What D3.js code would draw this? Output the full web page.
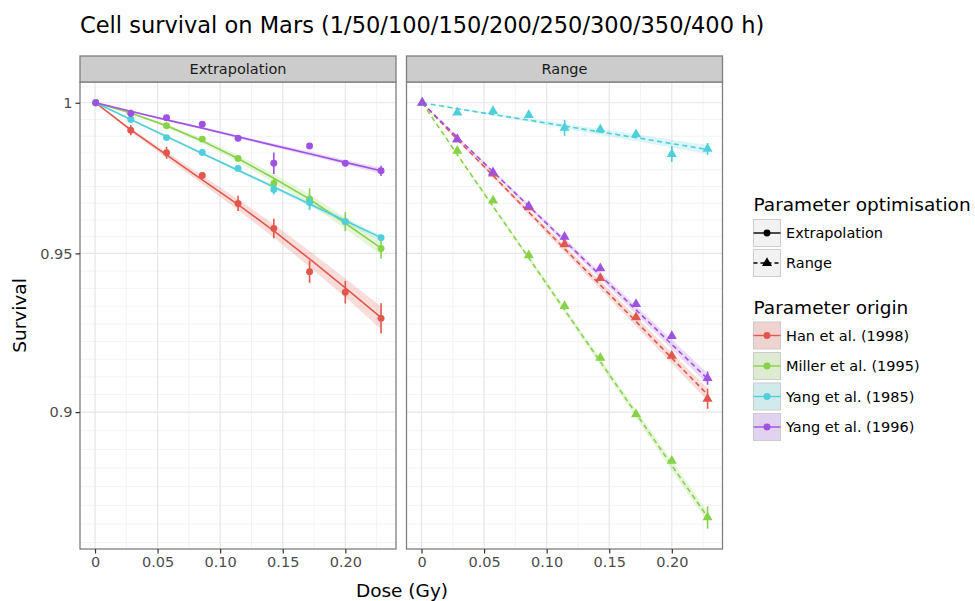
<!DOCTYPE html>
<html>
<head>
<meta charset="utf-8">
<script src="https://cdn.jsdelivr.net/npm/d3@7"></script>
<style>
    body { margin: 0; background: #fff; }
    svg { font-family: 'DejaVu Sans', sans-serif; }
</style>
</head>
<body>
<svg id="chart"></svg>
<script>
// 剂量 (Gy)，对应 1/50/100/.../400 h
var doses = [0.000571, 0.02857, 0.05714, 0.08571, 0.11429, 0.14286, 0.17143, 0.2, 0.22857];
var origins = ['Han et al. (1998)', 'Miller et al. (1995)', 'Yang et al. (1985)', 'Yang et al. (1996)'];
var optimisations = ['Extrapolation', 'Range'];
var xBreaks = [0, 0.05, 0.1, 0.15, 0.2];
var xBreakLabels = ['0', '0.05', '0.10', '0.15', '0.20'];
var yBreaks = [1, 0.95, 0.9];
var yBreakLabels = ['1', '0.95', '0.9'];

// Extrapolation：观测均值、误差、拟合、置信带 (顺序同 origins)
var extrapMean = [
    [1, 0.9907, 0.9831, 0.9755, 0.9663, 0.9581, 0.9441, 0.9375, 0.9292],
    [1, 0.9964, 0.9922, 0.9877, 0.9812, 0.9729, 0.9677, 0.9603, 0.9516],
    [1, 0.9943, 0.9882, 0.9832, 0.9779, 0.9709, 0.9666, 0.9603, 0.9551],
    [1, 0.9964, 0.9949, 0.9927, 0.9880, 0.9796, 0.9854, 0.9796, 0.9771]
];
var extrapErr = [
    [0, 0.0017, 0.0020, 0.0007, 0.0025, 0.0032, 0.0036, 0.0036, 0.0048],
    [0, 0.0005, 0.0005, 0.0005, 0.0005, 0.0017, 0.0036, 0.0031, 0.0033],
    [0, 0.0005, 0.0005, 0.0005, 0.0005, 0.0017, 0.0023, 0.0005, 0.0005],
    [0, 0.0013, 0.0005, 0.0005, 0.0010, 0.0036, 0.0005, 0.0010, 0.0017]
];
var extrapFit = [
    [1, 0.9908, 0.9824, 0.9741, 0.9659, 0.9573, 0.9482, 0.9389, 0.9294],
    [1, 0.9965, 0.9922, 0.9871, 0.9812, 0.9746, 0.9677, 0.9598, 0.9517],
    [1, 0.9943, 0.9886, 0.9829, 0.9773, 0.9717, 0.9661, 0.9606, 0.9551],
    [1, 0.9971, 0.9942, 0.9914, 0.9885, 0.9856, 0.9828, 0.9799, 0.9771]
];
var extrapBand = [
    [0, 0.0006, 0.0010, 0.0014, 0.0018, 0.0022, 0.0026, 0.0030, 0.0036],
    [0, 0.0003, 0.0006, 0.0009, 0.0012, 0.0014, 0.0016, 0.0019, 0.0022],
    [0, 0.0002, 0.0003, 0.0004, 0.0005, 0.0006, 0.0007, 0.0008, 0.0009],
    [0, 0.0002, 0.0003, 0.0004, 0.0005, 0.0006, 0.0007, 0.0008, 0.0010]
];

// Range
var rangeMean = [
    [1, 0.9876, 0.9762, 0.9650, 0.9529, 0.9420, 0.9295, 0.9174, 0.9041],
    [1, 0.9838, 0.9672, 0.9494, 0.9331, 0.9168, 0.8993, 0.8852, 0.8683],
    [1, 0.9967, 0.9972, 0.9958, 0.9915, 0.9910, 0.9893, 0.9827, 0.9844],
    [1, 0.9876, 0.9766, 0.9654, 0.9554, 0.9452, 0.9337, 0.9236, 0.9105]
];
var rangeErr = [
    [0, 0.0005, 0.0005, 0.0005, 0.0005, 0.0005, 0.0005, 0.0005, 0.0031],
    [0, 0.0005, 0.0005, 0.0005, 0.0005, 0.0010, 0.0005, 0.0005, 0.0033],
    [0, 0.0005, 0.0005, 0.0005, 0.0027, 0.0005, 0.0005, 0.0027, 0.0020],
    [0, 0.0005, 0.0005, 0.0005, 0.0005, 0.0005, 0.0005, 0.0005, 0.0021]
];
var rangeFit = [
    [1, 0.9876, 0.9755, 0.9634, 0.9515, 0.9398, 0.9282, 0.9167, 0.9054],
    [1, 0.9825, 0.9653, 0.9485, 0.9319, 0.9156, 0.8996, 0.8838, 0.8684],
    [1, 0.9980, 0.9960, 0.9941, 0.9921, 0.9901, 0.9882, 0.9862, 0.9842],
    [1, 0.9883, 0.9768, 0.9654, 0.9541, 0.9429, 0.9319, 0.9210, 0.9103]
];
var rangeBand = [
    [0, 0.0003, 0.0006, 0.0009, 0.0011, 0.0013, 0.0015, 0.0017, 0.0019],
    [0, 0.0003, 0.0005, 0.0007, 0.0009, 0.0011, 0.0013, 0.0015, 0.0017],
    [0, 0.0002, 0.0004, 0.0006, 0.0008, 0.0010, 0.0011, 0.0013, 0.0015],
    [0, 0.0003, 0.0005, 0.0007, 0.0009, 0.0011, 0.0013, 0.0015, 0.0017]
];

var colors = ['#E2574C', '#88D24A', '#4ECFD9', '#9F52E2'];

var svgWidth = 975, svgHeight = 601;
var panelTop = 82, panelBottom = 549, stripTop = 56;
var svg = d3.select('#chart')
    .attr('width', svgWidth)
    .attr('height', svgHeight);

// y比例尺 (对数)
var y = d3.scaleLog()
    .domain([0.859, 1.0071])
    .range([panelBottom, panelTop]);

var panels = [
    {mean: extrapMean, err: extrapErr, fit: extrapFit, band: extrapBand, x0: 80, x1: 396, triangle: false},
    {mean: rangeMean, err: rangeErr, fit: rangeFit, band: rangeBand, x0: 406.5, x1: 722.5, triangle: true}
];

// 次网格线：在变换后的空间里每个主刻度区间等分9份
var majorY = [yBreaks[0] + 0.05].concat(yBreaks).concat([yBreaks[yBreaks.length - 1] - 0.05]).map(function(v) { return y(v); });
var minorY = [];
for (var k = 0; k < majorY.length - 1; k++) {
    for (var s = 1; s < 9; s++) {
        var yy = majorY[k] + (majorY[k + 1] - majorY[k]) * s / 9;
        if (yy > panelTop && yy < panelBottom) minorY.push(yy);
    }
}

function drawPanel(p, pi) {
    var x = d3.scaleLinear()
        .domain([-0.012, 0.2405])
        .range([p.x0, p.x1]);
    var g = svg.append('g');
    var minorX = xBreaks.slice(0, -1).map(function(v, i) { return (v + xBreaks[i + 1]) / 2; }).concat([0.225]);

    // 网格
    g.selectAll('.minor-x').data(minorX).enter().append('line')
        .attr('x1', function(d) { return x(d); }).attr('x2', function(d) { return x(d); })
        .attr('y1', panelTop).attr('y2', panelBottom)
        .attr('stroke', '#ebebeb').attr('stroke-width', 0.6);
    g.selectAll('.minor-y').data(minorY).enter().append('line')
        .attr('x1', p.x0).attr('x2', p.x1)
        .attr('y1', function(d) { return d; }).attr('y2', function(d) { return d; })
        .attr('stroke', '#ebebeb').attr('stroke-width', 0.6);
    g.selectAll('.major-x').data(xBreaks).enter().append('line')
        .attr('x1', function(d) { return x(d); }).attr('x2', function(d) { return x(d); })
        .attr('y1', panelTop).attr('y2', panelBottom)
        .attr('stroke', '#e6e6e6').attr('stroke-width', 1.2);
    g.selectAll('.major-y').data(yBreaks).enter().append('line')
        .attr('x1', p.x0).attr('x2', p.x1)
        .attr('y1', function(d) { return y(d); }).attr('y2', function(d) { return y(d); })
        .attr('stroke', '#e6e6e6').attr('stroke-width', 1.2);

    // 置信带
    var area = d3.area()
        .x(function(d, i) { return x(doses[i]); })
        .y0(function(d) { return y(d[0] - d[1]); })
        .y1(function(d) { return y(d[0] + d[1]); });
    var line = d3.line()
        .x(function(d, i) { return x(doses[i]); })
        .y(function(d) { return y(d); });
    origins.forEach(function(o, j) {
        var bandData = p.fit[j].map(function(v, i) { return [v, p.band[j][i]]; });
        g.append('path')
            .attr('d', area(bandData))
            .attr('fill', colors[j])
            .attr('fill-opacity', 0.2);
    });
    // 拟合线
    origins.forEach(function(o, j) {
        g.append('path')
            .attr('d', line(p.fit[j]))
            .attr('fill', 'none')
            .attr('stroke', colors[j])
            .attr('stroke-width', 1.6)
            .attr('stroke-dasharray', p.triangle ? '5,3.5' : null);
    });
    // 误差线和点
    origins.forEach(function(o, j) {
        g.selectAll('.err' + j).data(p.mean[j]).enter().append('line')
            .attr('x1', function(d, i) { return x(doses[i]); })
            .attr('x2', function(d, i) { return x(doses[i]); })
            .attr('y1', function(d, i) { return y(d - p.err[j][i]); })
            .attr('y2', function(d, i) { return y(d + p.err[j][i]); })
            .attr('stroke', colors[j])
            .attr('stroke-width', 1.6);
        var sym = d3.symbol().type(p.triangle ? d3.symbolTriangle : d3.symbolCircle).size(p.triangle ? 44 : 38);
        g.selectAll('.pt' + j).data(p.mean[j]).enter().append('path')
            .attr('d', sym)
            .attr('transform', function(d, i) { return 'translate(' + x(doses[i]) + ',' + y(d) + ')'; })
            .attr('fill', colors[j]);
    });

    // 边框
    g.append('rect')
        .attr('x', p.x0).attr('y', panelTop)
        .attr('width', p.x1 - p.x0).attr('height', panelBottom - panelTop)
        .attr('fill', 'none').attr('stroke', '#7f7f7f').attr('stroke-width', 1.3);
    // 分面标题
    g.append('rect')
        .attr('x', p.x0).attr('y', stripTop)
        .attr('width', p.x1 - p.x0).attr('height', panelTop - stripTop)
        .attr('fill', '#cccccc').attr('stroke', '#7f7f7f').attr('stroke-width', 1.3);
    g.append('text')
        .attr('x', (p.x0 + p.x1) / 2).attr('y', (stripTop + panelTop) / 2 + 5)
        .attr('text-anchor', 'middle')
        .attr('font-size', 14.5)
        .attr('fill', '#1a1a1a')
        .text(optimisations[pi]);

    // x轴
    var xAxis = d3.axisBottom(x)
        .tickValues(xBreaks)
        .tickFormat(function(d, i) { return xBreakLabels[i]; })
        .tickSize(4.5)
        .tickPadding(3);
    var ax = g.append('g')
        .attr('transform', 'translate(0,' + panelBottom + ')')
        .call(xAxis);
    ax.select('.domain').remove();
    ax.selectAll('line').attr('stroke', '#333').attr('stroke-width', 1.2);
    ax.selectAll('text').attr('font-size', 14.5).attr('fill', '#4d4d4d').attr('font-family', 'DejaVu Sans');

    // y轴
    if (pi === 0) {
        var yAxis = d3.axisLeft(y)
            .tickValues(yBreaks)
            .tickFormat(function(d, i) { return yBreakLabels[i]; })
            .tickSize(4.5)
            .tickPadding(3);
        var ay = g.append('g')
            .attr('transform', 'translate(' + p.x0 + ',0)')
            .call(yAxis);
        ay.select('.domain').remove();
        ay.selectAll('line').attr('stroke', '#333').attr('stroke-width', 1.2);
        ay.selectAll('text').attr('font-size', 14.5).attr('fill', '#4d4d4d').attr('font-family', 'DejaVu Sans');
    }
}
panels.forEach(drawPanel);

// 标题
svg.append('text')
    .attr('x', 80).attr('y', 33)
    .attr('font-size', 22.5)
    .attr('fill', '#000')
    .text('Cell survival on Mars (1/50/100/150/200/250/300/350/400 h)');
svg.append('text')
    .attr('x', 402).attr('y', 597)
    .attr('text-anchor', 'middle')
    .attr('font-size', 18.5)
    .text('Dose (Gy)');
svg.append('text')
    .attr('transform', 'translate(26,' + (panelTop + panelBottom) / 2 + ') rotate(-90)')
    .attr('text-anchor', 'middle')
    .attr('font-size', 18.5)
    .text('Survival');

// 图例
var legendX = 753.5, keySize = 27;
function drawKey(ky, stroke, fill, dash, triangle) {
    svg.append('rect')
        .attr('x', legendX).attr('y', ky)
        .attr('width', keySize).attr('height', keySize)
        .attr('fill', fill)
        .attr('stroke', '#cccccc').attr('stroke-width', 1);
    svg.append('line')
        .attr('x1', legendX).attr('x2', legendX + keySize)
        .attr('y1', ky + keySize / 2).attr('y2', ky + keySize / 2)
        .attr('stroke', stroke).attr('stroke-width', 1.4)
        .attr('stroke-dasharray', dash ? '4,3' : null);
    svg.append('path')
        .attr('d', d3.symbol().type(triangle ? d3.symbolTriangle : d3.symbolCircle).size(triangle ? 44 : 38))
        .attr('transform', 'translate(' + (legendX + keySize / 2) + ',' + (ky + keySize / 2) + ')')
        .attr('fill', stroke);
}
svg.append('text')
    .attr('x', legendX).attr('y', 211)
    .attr('font-size', 18.5)
    .text('Parameter optimisation');
var optKeyY = [219.5, 249.5];
optimisations.forEach(function(o, i) {
    drawKey(optKeyY[i], '#000', '#f2f2f2', i === 1, i === 1);
    svg.append('text')
        .attr('x', 786).attr('y', optKeyY[i] + keySize / 2 + 5)
        .attr('font-size', 14.5)
        .text(o);
});
svg.append('text')
    .attr('x', legendX).attr('y', 313.5)
    .attr('font-size', 18.5)
    .text('Parameter origin');
origins.forEach(function(o, i) {
    var ky = 322 + i * 30.5;
    drawKey(ky, colors[i], d3.interpolateRgb('#f2f2f2', colors[i])(0.2), false, false);
    svg.append('text')
        .attr('x', 786).attr('y', ky + keySize / 2 + 5)
        .attr('font-size', 14.5)
        .text(o);
});
</script>
</body>
</html>
